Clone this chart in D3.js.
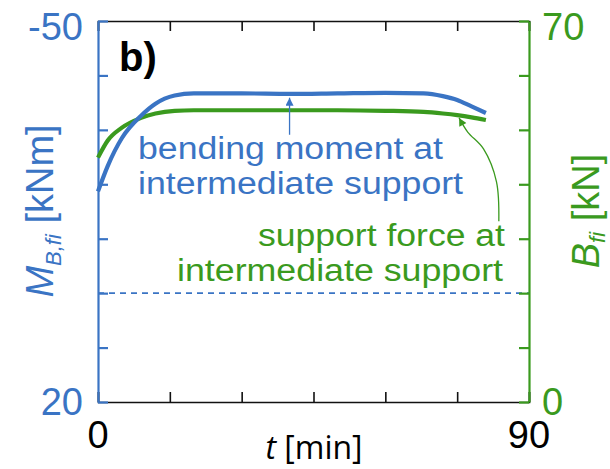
<!DOCTYPE html>
<html>
<head>
<meta charset="utf-8">
<script src="https://cdn.jsdelivr.net/npm/d3@7"></script>
<style>
  body { margin: 0; background: #fff; }
  svg { display: block; font-family: "Liberation Sans", Arial, sans-serif; }
</style>
</head>
<body>
<div id="chart"></div>
<script>
// time [min] and the two measured series
const time   = [0, 2, 5, 9, 12, 16, 20, 30, 40, 50, 60, 68, 72, 75, 78, 81];
const moment = [-18.7, -23.3, -28.5, -32.6, -34.8, -36.3, -36.7, -36.7, -36.6, -36.7, -36.8, -36.7, -36.2, -35.5, -34.3, -33.1];
const force  = [44.9, 48.0, 50.4, 52.2, 53.0, 53.5, 53.6, 53.6, 53.6, 53.6, 53.5, 53.3, 53.0, 52.7, 52.3, 51.8];

const xTicks = [0, 15, 30, 45, 60, 75, 90];
const mTicks = [-50, -40, -30, -20, -10, 0, 10, 20];
const bTicks = [0, 10, 20, 30, 40, 50, 60, 70];
const xLabels = [0, 90];
const mLabels = [-50, 20];
const bLabels = [0, 70];

const blue = "#3a74c4";
const green = "#3a9a1e";

const W = 610, H = 469;
const margin = { top: 21, right: 81, bottom: 67, left: 98 };

const svg = d3.select("#chart").append("svg")
  .attr("width", W).attr("height", H);

const x = d3.scaleLinear().domain([0, 90]).range([margin.left, W - margin.right]);
const yM = d3.scaleLinear().domain([-50, 20]).range([margin.top, H - margin.bottom]);
const yB = d3.scaleLinear().domain([0, 70]).range([H - margin.bottom, margin.top]);

const x0 = x.range()[0], x1 = x.range()[1];
const yTop = margin.top, yBot = H - margin.bottom;

// zero line of the moment
svg.append("line")
  .attr("x1", x0).attr("x2", x1)
  .attr("y1", yM(0)).attr("y2", yM(0))
  .attr("stroke", blue).attr("stroke-width", 1.8)
  .attr("stroke-dasharray", "6,5");

// top and bottom frame (black) with inward ticks
svg.append("g")
  .attr("transform", `translate(0,${yBot})`)
  .call(d3.axisTop(x).tickValues(xTicks).tickSize(10).tickFormat(""))
  .call(g => g.selectAll("path,line").attr("stroke", "#111").attr("stroke-width", 1.6));
svg.append("g")
  .attr("transform", `translate(0,${yTop})`)
  .call(d3.axisBottom(x).tickValues(xTicks).tickSize(10).tickFormat(""))
  .call(g => g.selectAll("path,line").attr("stroke", "#111").attr("stroke-width", 1.6));

// left (blue) and right (green) axes, ticks inward
svg.append("g")
  .attr("transform", `translate(${x0},0)`)
  .call(d3.axisRight(yM).tickValues(mTicks).tickSize(10).tickSizeOuter(0).tickFormat(""))
  .call(g => g.selectAll("path,line").attr("stroke", blue).attr("stroke-width", 2.2));
svg.append("g")
  .attr("transform", `translate(${x1},0)`)
  .call(d3.axisLeft(yB).tickValues(bTicks).tickSize(10).tickSizeOuter(0).tickFormat(""))
  .call(g => g.selectAll("path,line").attr("stroke", green).attr("stroke-width", 2.2));

// tick labels (only the end values)
svg.selectAll(".xl").data(xLabels).enter().append("text")
  .attr("x", d => x(d)).attr("y", yBot + 46)
  .attr("text-anchor", "middle").attr("font-size", 38).attr("fill", "#000")
  .text(d => d);
svg.selectAll(".ml").data(mLabels).enter().append("text")
  .attr("x", x0 - 15).attr("y", d => d === -50 ? yM(d) + 19 : yM(d) + 13)
  .attr("text-anchor", "end").attr("font-size", 38).attr("fill", blue)
  .text(d => d);
svg.selectAll(".bl").data(bLabels).enter().append("text")
  .attr("x", x1 + 13).attr("y", d => d === 70 ? yB(d) + 19 : yB(d) + 13)
  .attr("text-anchor", "start").attr("font-size", 38).attr("fill", green)
  .text(d => d);

// curves
const lineM = d3.line().x((d, i) => x(time[i])).y(d => yM(d)).curve(d3.curveMonotoneX);
const lineB = d3.line().x((d, i) => x(time[i])).y(d => yB(d)).curve(d3.curveMonotoneX);

svg.append("path").datum(force)
  .attr("d", lineB).attr("fill", "none")
  .attr("stroke", green).attr("stroke-width", 4.2);
svg.append("path").datum(moment)
  .attr("d", lineM).attr("fill", "none")
  .attr("stroke", blue).attr("stroke-width", 4.2);

// panel label
svg.append("text")
  .attr("x", 119).attr("y", 71)
  .attr("font-size", 40).attr("font-weight", "bold").attr("fill", "#000")
  .text("b)");

// annotations
const note = (lines, color, xs, ys, lens) => {
  lines.forEach((s, i) => {
    svg.append("text")
      .attr("x", xs[i]).attr("y", ys[i])
      .attr("font-size", 31).attr("fill", color)
      .attr("textLength", lens[i]).attr("lengthAdjust", "spacingAndGlyphs")
      .text(s);
  });
};
note(["bending moment at", "intermediate support"], blue, [138, 138], [159, 194], [305, 325]);
note(["support force at", "intermediate support"], green, [258, 177], [246, 281], [247, 326]);

// arrows
const defs = svg.append("defs");
[["ahBlue", blue], ["ahGreen", green]].forEach(([id, c]) => {
  defs.append("marker").attr("id", id)
    .attr("viewBox", "0 0 10 10").attr("refX", 10).attr("refY", 5)
    .attr("markerWidth", 13).attr("markerHeight", 8)
    .attr("markerUnits", "userSpaceOnUse").attr("orient", "auto")
    .append("path").attr("d", "M0,0L10,5L0,10Z").attr("fill", c);
});

svg.append("line")
  .attr("x1", x(40)).attr("y1", yM(-29.1))
  .attr("x2", x(40)).attr("y2", yM(-35.9))
  .attr("stroke", blue).attr("stroke-width", 1.3)
  .attr("marker-end", "url(#ahBlue)");

const arrowB = [[83.7, 33.2], [83.2, 40.5], [80.5, 46.5], [77.2, 49.6], [75.4, 52.2]];
svg.append("path")
  .attr("d", d3.line().x(d => x(d[0])).y(d => yB(d[1])).curve(d3.curveCatmullRom)(arrowB))
  .attr("fill", "none").attr("stroke", green).attr("stroke-width", 1.3)
  .attr("marker-end", "url(#ahGreen)");

// axis titles
svg.append("text")
  .attr("x", 314).attr("y", 459)
  .attr("text-anchor", "middle").attr("font-size", 32)
  .attr("font-family", "'Open Sans', sans-serif").attr("fill", "#000")
  .call(t => {
    t.append("tspan").attr("font-style", "italic").text("t");
    t.append("tspan").text(" [min]");
  });

svg.append("text")
  .attr("transform", "translate(53,211) rotate(-90)")
  .attr("text-anchor", "middle").attr("font-size", 38).attr("fill", blue)
  .call(t => {
    t.append("tspan").attr("font-style", "italic").text("M");
    t.append("tspan").attr("font-style", "italic").attr("font-size", 22).attr("dy", 8).text("B,fi");
    t.append("tspan").attr("dy", -8).text(" [kNm]");
  });

svg.append("text")
  .attr("transform", "translate(599,211) rotate(-90)")
  .attr("text-anchor", "middle").attr("font-size", 38).attr("fill", green)
  .call(t => {
    t.append("tspan").attr("font-style", "italic").text("B");
    t.append("tspan").attr("font-style", "italic").attr("font-size", 22).attr("dy", 6).text("fi");
    t.append("tspan").attr("dy", -6).text(" [kN]");
  });
</script>
</body>
</html>
